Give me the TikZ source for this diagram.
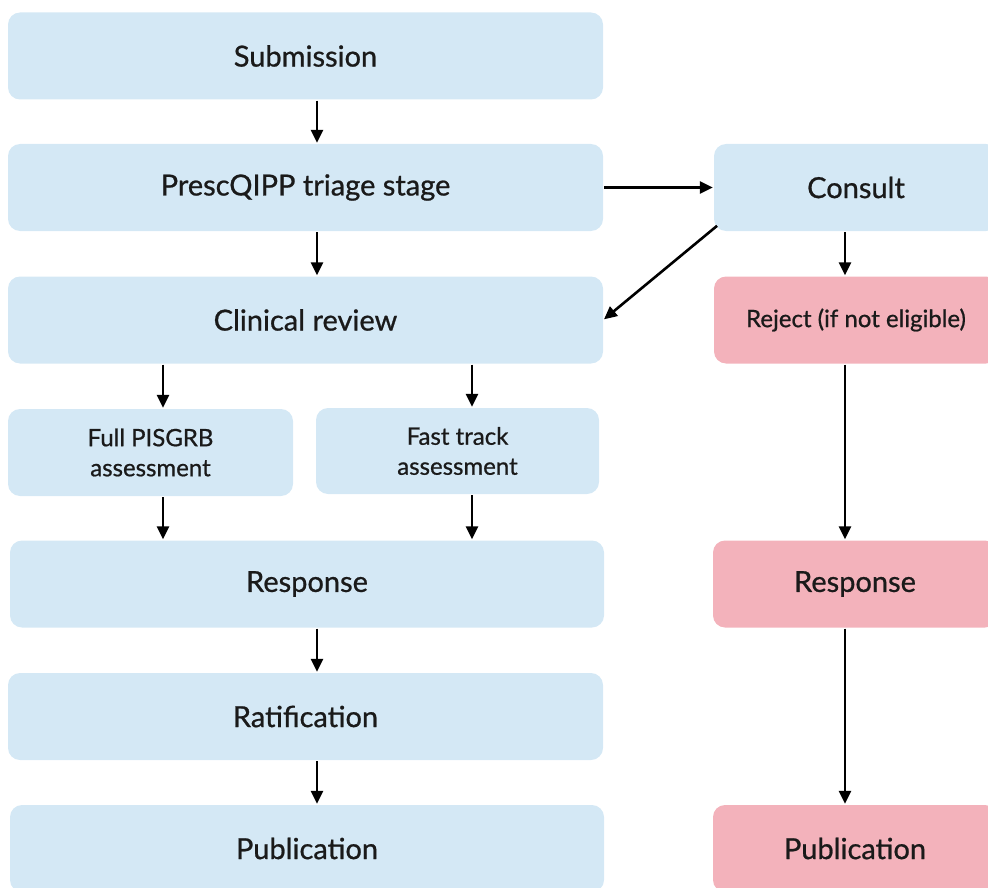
\documentclass[tikz,border=0pt]{standalone}
\usepackage{fontspec}
\setmainfont{Lato}[RawFeature={embolden=0.8}]
\usetikzlibrary{arrows.meta}
\definecolor{bluebox}{HTML}{D4E8F5}
\definecolor{pinkbox}{HTML}{F3B2BB}
\definecolor{txt}{HTML}{1A1A1A}
\tikzset{
  box/.style={fill=bluebox, rounded corners=12pt, inner sep=0pt, text=txt, align=center, font=\fontsize{29}{34}\selectfont},
  pbox/.style={box, fill=pinkbox},
  small/.style={font=\fontsize{24}{30}\selectfont},
  arr/.style={line width=2.6pt, -{Triangle[length=13pt,width=12pt]}, shorten >=1pt, shorten <=1pt}
}
\begin{document}
\begin{tikzpicture}[x=1pt,y=-1pt]
\useasboundingbox (0,0) rectangle (988,888);
\clip (0,0) rectangle (988,888);
\node[box, minimum width=595pt, minimum height=87pt] (sub) at (305.5,56) {Submission};
\node[box, minimum width=595pt, minimum height=87pt] (tri) at (305.5,187.5) {PrescQIPP triage stage};
\node[box, minimum width=595pt, minimum height=87pt] (cli) at (305.5,320) {Clinical review};
\node[box, small, minimum width=285pt, minimum height=87pt] (full) at (150.5,452.5) {Full PISGRB\\assessment};
\node[box, small, minimum width=283pt, minimum height=86pt] (fast) at (457.5,451) {Fast track\\assessment};
\node[box, minimum width=594pt, minimum height=87pt] (resp) at (307,584) {Response};
\node[box, minimum width=595pt, minimum height=87pt] (rat) at (305.5,716.5) {Ratification};
\node[box, minimum width=594pt, minimum height=87pt] (pub) at (307,848.5) {Publication};
\node[box, minimum width=284pt, minimum height=87pt] (con) at (856,187.5) {Consult};
\node[pbox, small, minimum width=284pt, minimum height=87pt] (rej) at (856,320) {Reject (if not eligible)};
\node[pbox, minimum width=284pt, minimum height=87pt] (presp) at (855,584) {Response};
\node[pbox, minimum width=284pt, minimum height=87pt] (ppub) at (855,848.5) {Publication};
\coordinate (cx) at (317,0);
\coordinate (lx) at (163,0);
\coordinate (rx) at (472,0);
\coordinate (px) at (845,0);
\draw[arr] (sub.south -| cx) -- (tri.north -| cx);
\draw[arr] (tri.south -| cx) -- (cli.north -| cx);
\draw[arr] (tri.east) -- (con.west);
\draw[arr] (con.south west) ++(4,-6) coordinate (cd) (cd) -- (cli.east);
\draw[arr] (con.south -| px) -- (rej.north -| px);
\draw[arr] (cli.south -| lx) -- (full.north -| lx);
\draw[arr] (cli.south -| rx) -- (fast.north -| rx);
\draw[arr] (full.south -| lx) -- (resp.north -| lx);
\draw[arr] (fast.south -| rx) -- (resp.north -| rx);
\draw[arr] (resp.south -| cx) -- (rat.north -| cx);
\draw[arr] (rat.south -| cx) -- (pub.north -| cx);
\draw[arr] (rej.south -| px) -- (presp.north -| px);
\draw[arr] (presp.south -| px) -- (ppub.north -| px);
\end{tikzpicture}
\end{document}
